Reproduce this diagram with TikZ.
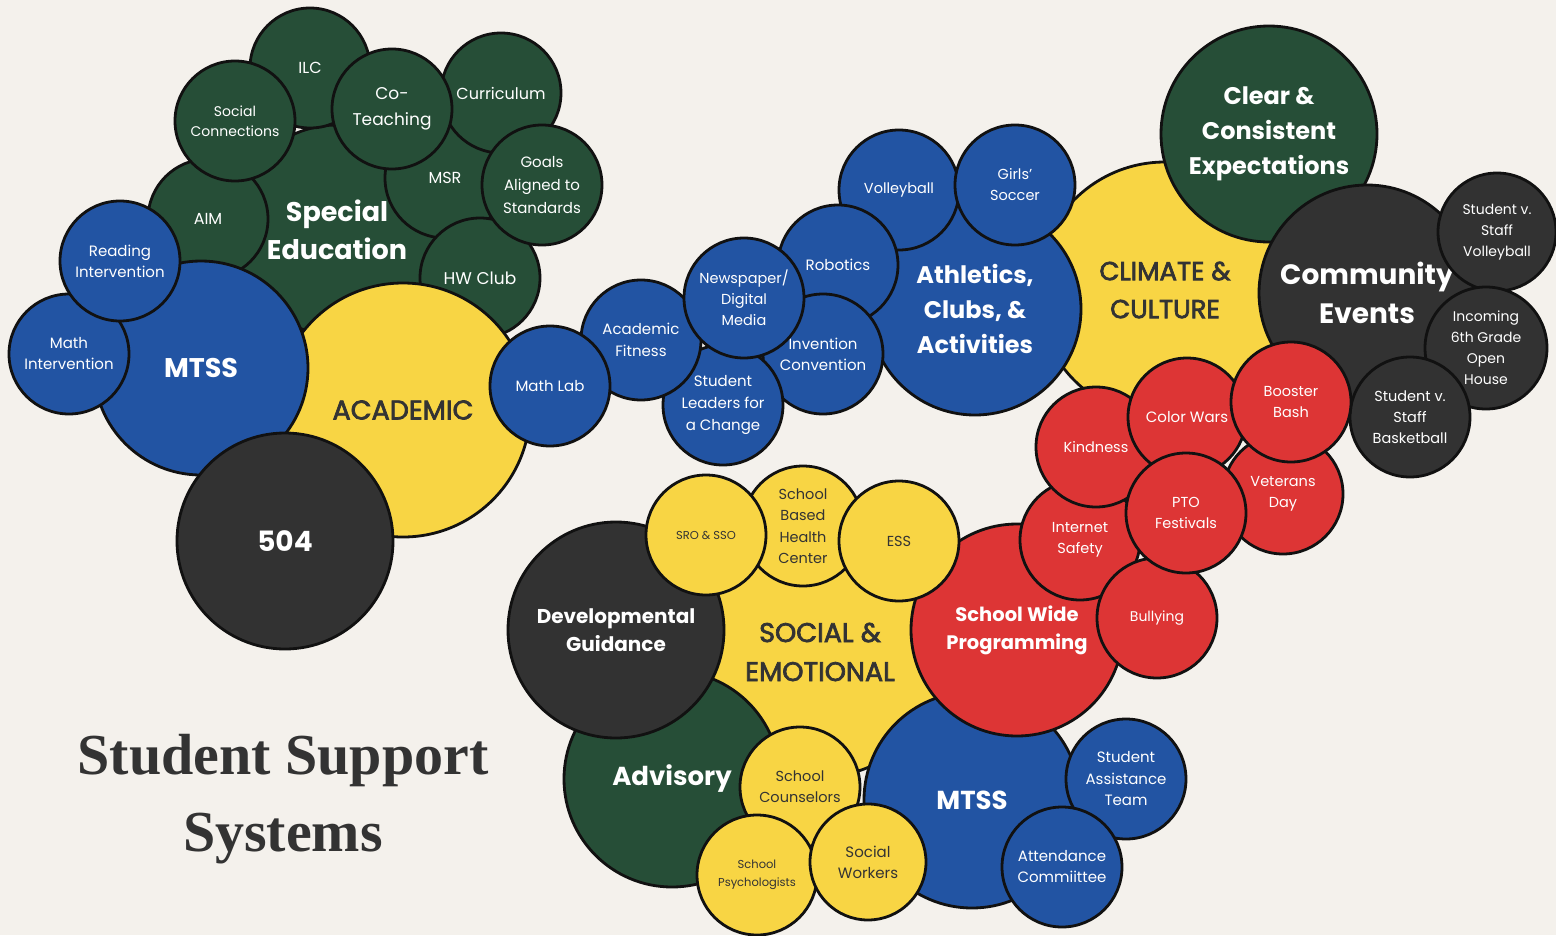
\documentclass[tikz,border=0pt]{standalone}
\usepackage{fontspec}
\setmainfont{Poppins}
\newfontfamily\titlefont{Liberation Serif}
\definecolor{bg}{HTML}{F4F1EC}
\definecolor{cgreen}{HTML}{264E37}
\definecolor{cblue}{HTML}{2254A3}
\definecolor{cyellow}{HTML}{F8D544}
\definecolor{cdark}{HTML}{323232}
\definecolor{cred}{HTML}{DD3535}
\definecolor{outl}{HTML}{111111}
\definecolor{ink}{HTML}{333333}
\newcommand\fsz[2]{\fontsize{#1}{#2}\selectfont}
% medium weight for the yellow headings: fill and stroke the glyphs
\newcommand\medon{\special{pdf:literal direct 2 Tr 0.7 w}}
\newcommand\medoff{\special{pdf:literal direct 0 Tr}}
\tikzset{
  bub/.style={circle, draw=outl, line width=2.8pt, minimum size=#1, inner sep=0pt, align=center},
  bub/.default=120pt,
  grn/.style={fill=cgreen, text=white},
  blu/.style={fill=cblue, text=white},
  yel/.style={fill=cyellow, text=ink},
  drk/.style={fill=cdark, text=white},
  rd/.style={fill=cred, text=white},
  lbl/.style={font=\fsz{15}{21}}
}
\begin{document}
\begin{tikzpicture}[x=1pt,y=-1pt]
\useasboundingbox (0,0) rectangle (1556,935);
\fill[bg] (0,0) rectangle (1556,935);

% ---- Academic: special education, MTSS, 504 ----
\node[bub=210pt, grn, font=\bfseries\fsz{27}{38}] (sped) at (337,230) {Special\\Education};
\node[bub, grn, font=\fsz{16}{22}] (msr) at (445,178) {MSR};
\node[bub, grn, font=\fsz{16}{22}] (ilc) at (310,68) {ILC};
\node[bub, grn, font=\fsz{16}{22}] (aim) at (208,219) {AIM};
\node[bub, grn, font=\fsz{14}{20}] (socconn) at (235,121) {Social\\Connections};
\node[bub, grn, font=\fsz{16}{22}] (curric) at (501,93) {Curriculum};
\node[bub, grn, font=\fsz{17}{26}] (coteach) at (392,109) {Co-\\Teaching};
\node[bub, grn, font=\fsz{17}{22}] (hwclub) at (480,278) {HW Club};
\node[bub, grn, font=\fsz{15}{23}] (goals) at (542,185) {Goals\\Aligned to\\Standards};
\node[bub=254pt, yel, font=\fsz{27}{38}] (academic) at (403,410) {\medon ACADEMIC\medoff};
\node[bub=214pt, blu, font=\bfseries\fsz{27}{36}] (mtssA) at (201,368) {MTSS};
\node[bub, blu, lbl] (mathint) at (69,354) {Math\\Intervention};
\node[bub, blu, lbl] (readint) at (120,261) {Reading\\Intervention};
\node[bub=216pt, drk, font=\bfseries\fsz{28}{38}] (d504) at (285,541) {504};

% ---- Climate & culture ----
\node[bub=256pt, yel, font=\fsz{26}{38}] (climate) at (1165,290) {\medon CLIMATE \&\\CULTURE\medoff};
\node[bub=216pt, grn, font=\bfseries\fsz{24}{35}] (clear) at (1269,134) {Clear \&\\Consistent\\Expectations};
\node[bub=216pt, drk, font=\bfseries\fsz{28}{39}] (community) at (1367,293) {Community\\Events};
\node[bub=118pt, drk, font=\fsz{14}{21}] (svb) at (1497,232) {Student v.\\Staff\\Volleyball};
\node[bub=122pt, drk, font=\fsz{14}{21}] (incoming) at (1486,348) {Incoming\\6th Grade\\Open\\House};
\node[bub, drk, font=\fsz{14.5}{21}] (basket) at (1410,417) {Student v.\\Staff\\Basketball};

% ---- Athletics, clubs & activities ----
\node[bub=212pt, blu, font=\bfseries\fsz{24}{35}] (athletics) at (975,309) {Athletics,\\Clubs, \&\\Activities};
\node[bub, blu, font=\fsz{14.5}{21}] (volley) at (899,190) {Volleyball};
\node[bub, blu, font=\fsz{14.5}{21}] (soccer) at (1015,185) {Girls’\\Soccer};
\node[bub, blu, lbl] (robotics) at (838,265) {Robotics};
\node[bub, blu, lbl] (invention) at (823,354) {Invention\\Convention};
\node[bub, blu, font=\fsz{15}{22}] (leaders) at (723,405) {Student\\Leaders for\\a Change};
\node[bub, blu, font=\fsz{15}{22}] (fitness) at (641,340) {Academic\\Fitness};
\node[bub, blu, lbl] (mathlab) at (550,386) {Math Lab};
\node[bub, blu, font=\fsz{14.5}{21}] (news) at (744,298) {Newspaper/\\Digital\\Media};

% ---- Social & emotional ----
\node[bub=250pt, yel, font=\fsz{27}{39}] (social) at (820,652) {\medon SOCIAL \&\\EMOTIONAL\medoff};
\node[bub=216pt, grn, font=\bfseries\fsz{26}{36}] (advisory) at (672,779) {Advisory};
\node[bub=216pt, drk, font=\bfseries\fsz{20}{28}] (devguid) at (616,630) {Developmental\\Guidance};
\node[bub, yel, font=\fsz{14.5}{21.5}] (sbhc) at (803,526) {School\\Based\\Health\\Center};
\node[bub, yel, font=\fsz{11.5}{16}] (sro) at (706,535) {SRO \& SSO};
\node[bub=216pt, blu, font=\bfseries\fsz{26}{36}] (mtssB) at (972,800) {MTSS};
\node[bub=212pt, rd, font=\bfseries\fsz{19.5}{28}] (schoolwide) at (1017,630) {School Wide\\Programming};
\node[bub, yel, font=\fsz{14.5}{21}] (ess) at (899,541) {ESS};
\node[bub, yel, font=\fsz{14.5}{21}] (counsel) at (800,787) {School\\Counselors};
\node[bub, yel, font=\fsz{11.5}{18}] (psych) at (757,875) {School\\Psychologists};
\node[bub=116pt, yel, lbl] (workers) at (868,862) {Social\\Workers};
\node[bub, blu, font=\fsz{15}{21.5}] (sat) at (1126,779) {Student\\Assistance\\Team};
\node[bub, blu, lbl] (attend) at (1062,867) {Attendance\\Commiittee};

% ---- School wide programming events ----
\node[bub, rd, font=\fsz{14.5}{21}] (internet) at (1080,540) {Internet\\Safety};
\node[bub, rd, font=\fsz{14.5}{21}] (kindness) at (1096,447) {Kindness};
\node[bub=118pt, rd, lbl] (colorwars) at (1187,417) {Color Wars};
\node[bub, rd, font=\fsz{14.5}{21}] (veterans) at (1283,494) {Veterans\\Day};
\node[bub, rd, font=\fsz{14.5}{21}] (booster) at (1291,402) {Booster\\Bash};
\node[bub, rd, font=\fsz{14}{21}] (bullying) at (1157,618) {Bullying};
\node[bub, rd, font=\fsz{14.5}{21}] (pto) at (1186,513) {PTO\\Festivals};

% ---- Title ----
\node[font=\titlefont\bfseries\fsz{58}{77}, text=ink, align=center] (title) at (283,799) {Student Support\\Systems};
\end{tikzpicture}
\end{document}
